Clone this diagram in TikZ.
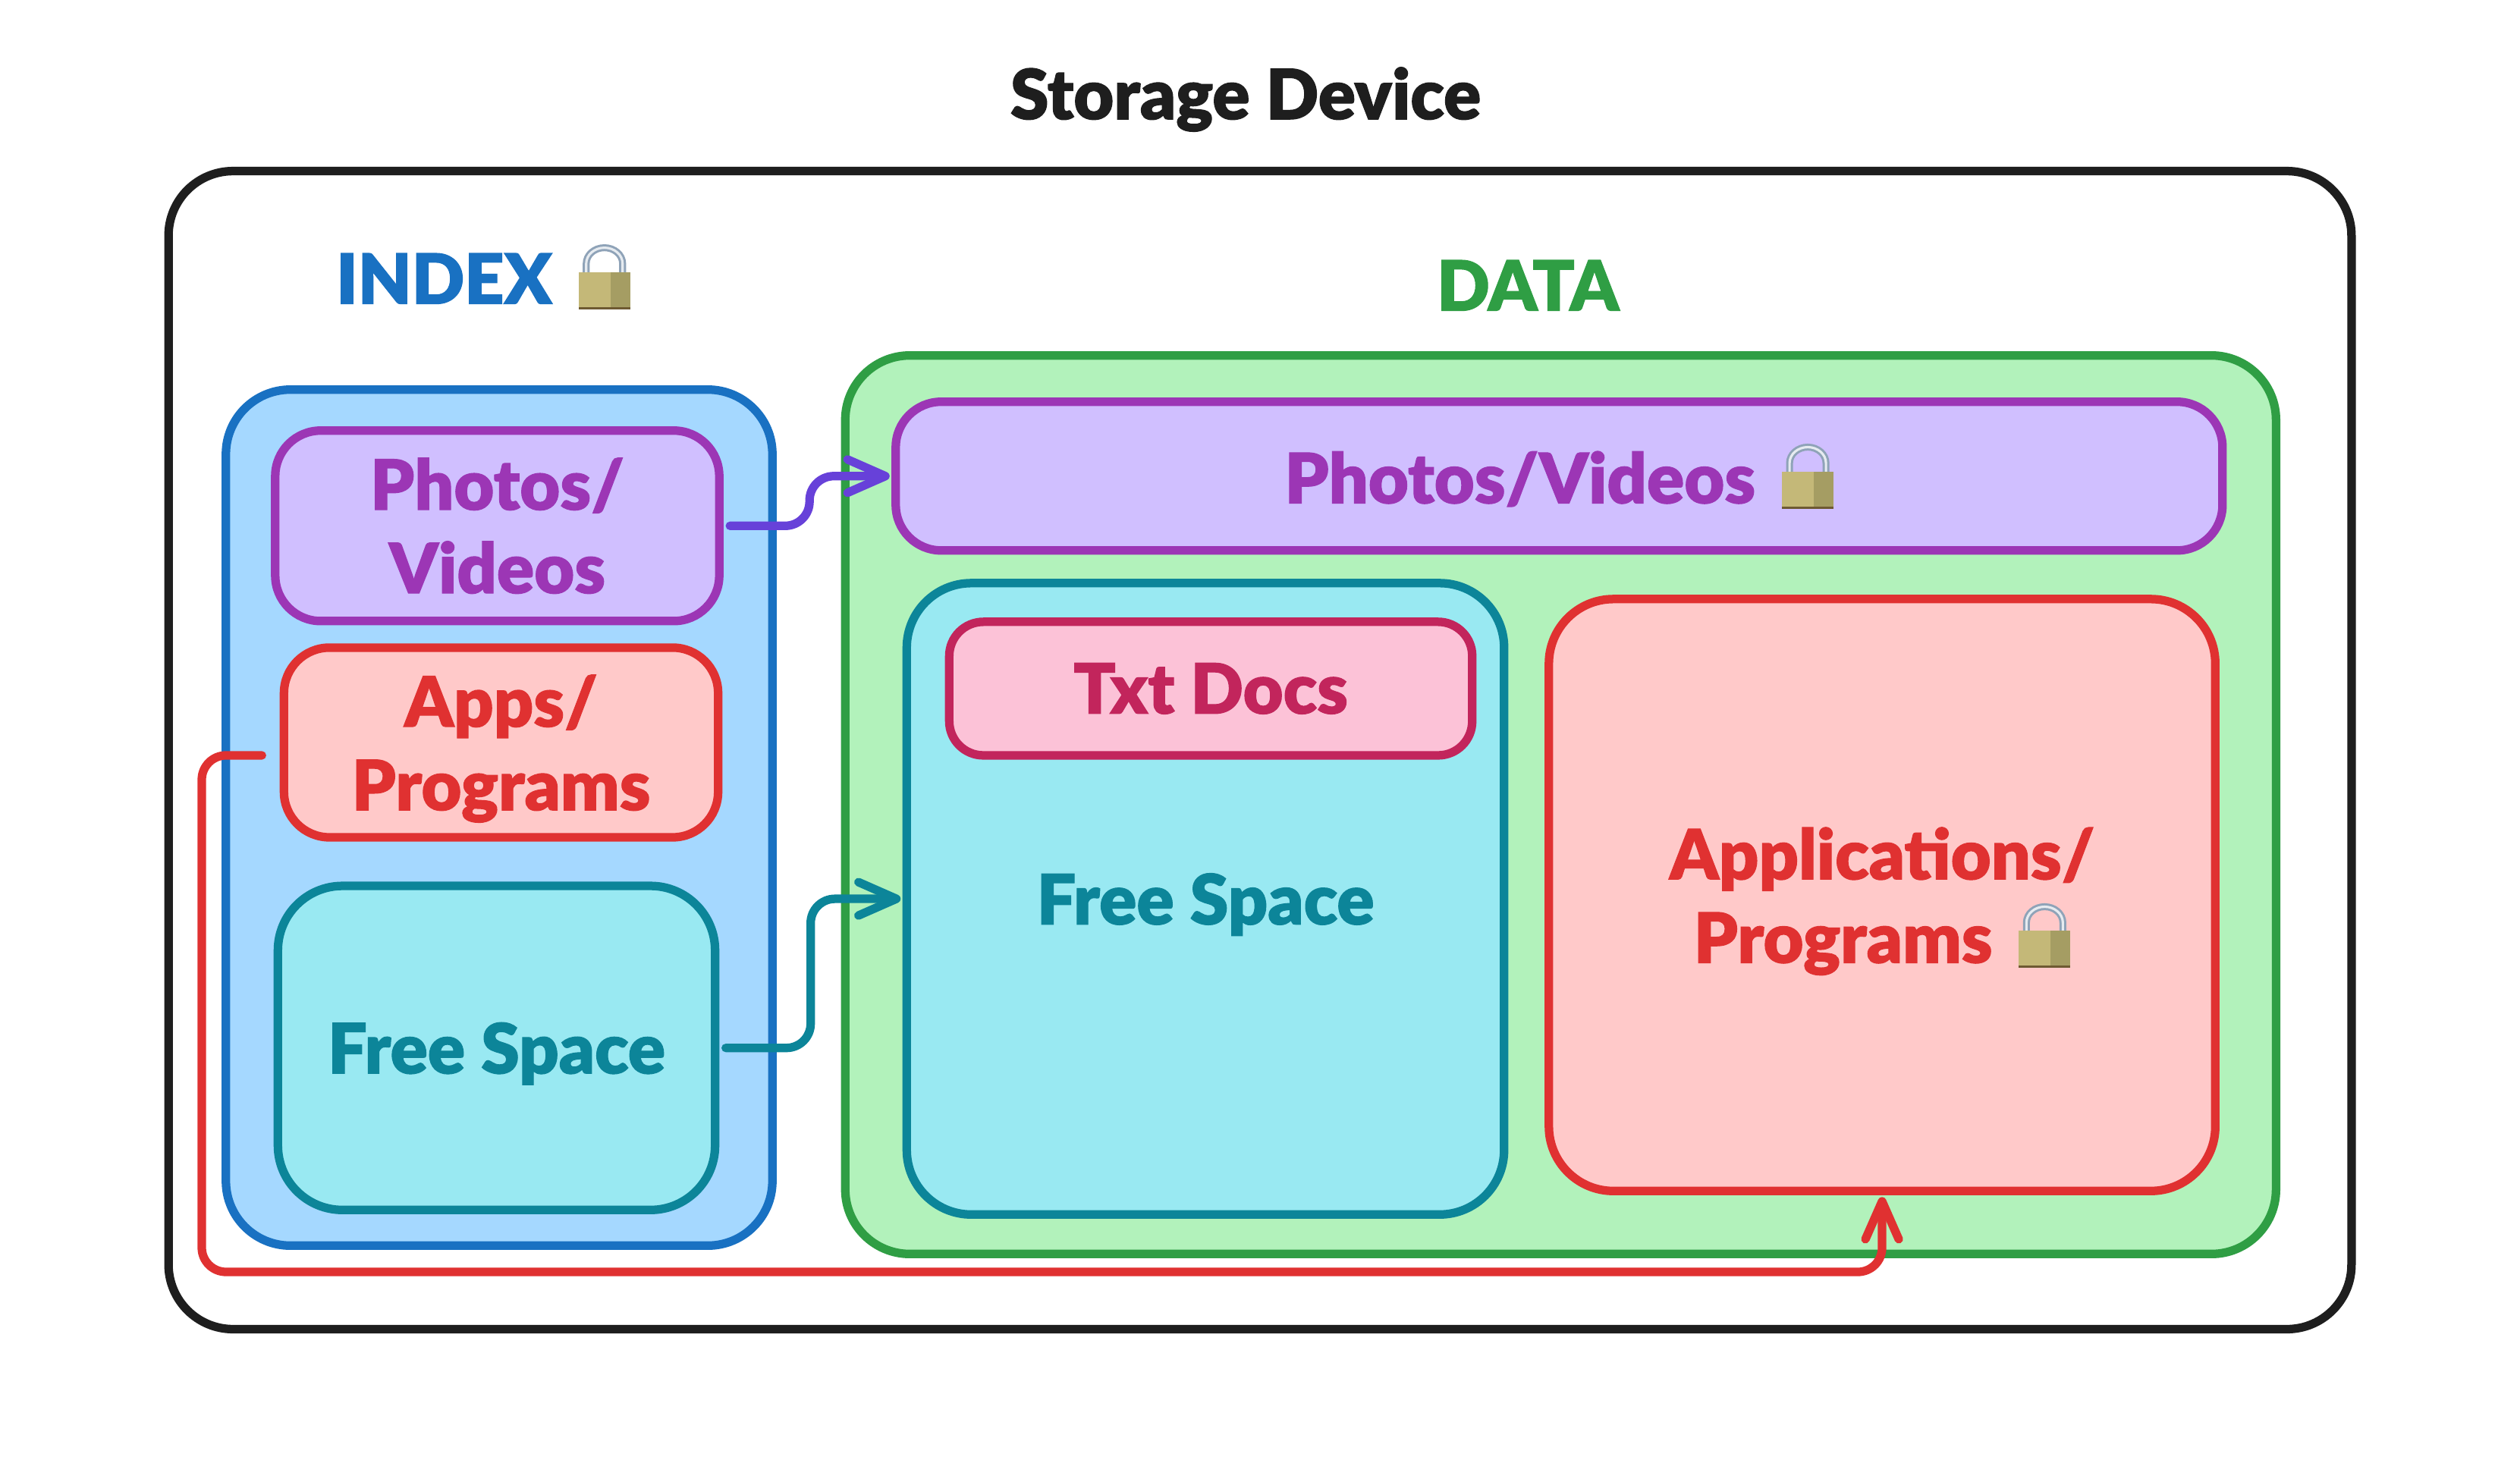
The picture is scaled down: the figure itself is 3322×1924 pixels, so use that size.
\documentclass[tikz,border=0pt]{standalone}
\usepackage{fontspec}
\setmainfont{Lato}[UprightFont=* Black,UprightFeatures={FakeBold=1.2}]
\usetikzlibrary{positioning,arrows.meta}
\definecolor{inkblack}{HTML}{1E1E1E}
\definecolor{indexline}{HTML}{1971C2}
\definecolor{indexfill}{HTML}{A5D8FF}
\definecolor{dataline}{HTML}{2F9E44}
\definecolor{datafill}{HTML}{B2F2BB}
\definecolor{mediafill}{HTML}{D0BFFF}
\definecolor{medialine}{HTML}{9C36B5}
\definecolor{medialink}{HTML}{6741D9}
\definecolor{appsline}{HTML}{E03131}
\definecolor{appsfill}{HTML}{FFC9C9}
\definecolor{freeline}{HTML}{0C8599}
\definecolor{freefill}{HTML}{99E9F2}
\definecolor{txtline}{HTML}{C2255C}
\definecolor{txtfill}{HTML}{FCC2D7}
\definecolor{lockgold}{HTML}{C4B878}
\definecolor{lockshade}{HTML}{A59D63}
\definecolor{lockedge}{HTML}{6E5A32}
\definecolor{lockmetal}{HTML}{8FA3B8}
\definecolor{lockshine}{HTML}{E6EBF0}
\newcommand{\labelfont}{\fontsize{26}{31.3}\selectfont}
\newsavebox{\lockbox}
\sbox{\lockbox}{\begin{tikzpicture}[x=.01cm,y=.01cm,baseline=.07cm]
\draw[lockmetal,line width=2.6pt] (10,45) -- (10,60) arc[start angle=180,end angle=0,x radius=24,y radius=21] -- (58,45);
\draw[lockshine,line width=.9pt] (10,45) -- (10,60) arc[start angle=180,end angle=0,x radius=24,y radius=21] -- (58,45);
\fill[lockgold] (0,0) rectangle (68,49);
\fill[lockshade] (42,0) rectangle (68,49);
\fill[lockedge] (0,0) rectangle (68,3);
\end{tikzpicture}}
\newcommand{\lockicon}{\hspace{.35cm}\usebox{\lockbox}}
\tikzset{node distance=1cm,
  panel/.style={draw,rounded corners=.85cm,line width=3.2pt,outer sep=0pt,inner sep=0pt,font=\labelfont,align=center},
  smallpanel/.style={panel,rounded corners=.6cm},
  heading/.style={inner sep=0pt,outer sep=0pt,font=\labelfont},
  link/.style={line width=3.2pt,line cap=round,rounded corners=.32cm,-{Straight Barb[round,length=.5cm,width=.44cm]}}}

\begin{document}
\begin{tikzpicture}[x=.01cm,y=-.01cm]
\path[fill=white,use as bounding box] (0,0) rectangle (3322,1924);
\node (outer) [panel,draw=inkblack,minimum width=28.76cm,minimum height=15.26cm] at (1661,989) {};
\node (title) [heading,text=inkblack,above=.52cm of outer,xshift=-.19cm] {Storage Device};
\node (indexbox) [panel,draw=indexline,fill=indexfill,minimum width=7.20cm,minimum height=11.28cm] at (658,1078) {};
\node (databox) [panel,draw=dataline,fill=datafill,minimum width=18.85cm,minimum height=11.84cm,right=.96cm of indexbox,yshift=.17cm] {};
\node (indexlabel) [heading,text=indexline,above=1.06cm of indexbox,xshift=-.21cm] {INDEX\lockicon};
\node (datalabel) [heading,text=dataline,above=.59cm of databox,xshift=-.43cm] {DATA};
\node (photosindex) [smallpanel,draw=medialine,fill=mediafill,text=medialine,minimum width=5.85cm,minimum height=2.51cm,below=.54cm of indexbox.north,xshift=-.025cm] {Photos/\\Videos};
\node (appsindex) [smallpanel,draw=appsline,fill=appsfill,text=appsline,text depth=0pt,minimum width=5.72cm,minimum height=2.50cm,below=.35cm of photosindex,xshift=.05cm] {Apps/\\Programs};
\node (freeindex) [panel,draw=freeline,fill=freefill,text=freeline,text depth=0pt,minimum width=5.76cm,minimum height=4.27cm,below=.64cm of appsindex,xshift=-.06cm] {Free Space};
\node (dataphotos) [smallpanel,draw=medialine,fill=mediafill,text=medialine,minimum width=17.48cm,minimum height=1.96cm,below=.61cm of databox.north,xshift=-.02cm] {Photos/Videos\lockicon};
\node (freedata) [panel,draw=freeline,fill=freefill,text=freeline,text depth=0pt,minimum width=7.87cm,minimum height=8.32cm,below=.43cm of dataphotos,xshift=-4.66cm] {Free Space};
\node (txtdocs) [smallpanel,rounded corners=.45cm,draw=txtline,fill=txtfill,text=txtline,minimum width=6.89cm,minimum height=1.76cm,below=.51cm of freedata.north,xshift=.07cm] {Txt Docs};
\node (appsdata) [panel,draw=appsline,fill=appsfill,text=appsline,text depth=0pt,minimum width=8.78cm,minimum height=7.80cm,right=.59cm of freedata,yshift=.05cm] {Applications/\\Programs\lockicon};
\coordinate (photosout) at ([xshift=.14cm]photosindex.east);
\coordinate (photosin) at ([xshift=-.08cm]dataphotos.west);
\coordinate (freeout) at ([xshift=.14cm]freeindex.east);
\coordinate (freein) at ([xshift=-.08cm]freedata.west);
\coordinate (appsout) at ([xshift=-.29cm,yshift=-.17cm]appsindex.west);
\coordinate (appsturn) at (266,1677);
\coordinate (appsin) at ([yshift=-.08cm]appsdata.south);
\draw[link,medialink] (photosout) -- ++(105,0) |- (photosin);
\draw[link,freeline] (freeout) -- ++(112,0) |- (freein);
\draw[link,appsline] (appsout) -| (appsturn) -| (appsin);
\end{tikzpicture}
\end{document}
